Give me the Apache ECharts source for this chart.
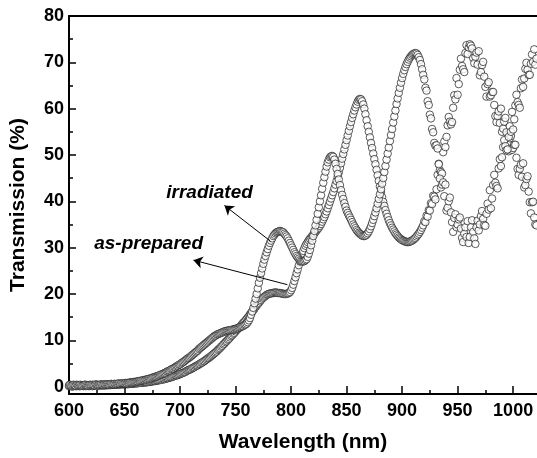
<!DOCTYPE html>
<html>
<head>
<meta charset="utf-8">
<title>Transmission</title>
<script src="https://cdn.jsdelivr.net/npm/echarts@6/dist/echarts.min.js"></script>
<style>
    html, body { margin: 0; padding: 0; background: #fff; }
    #main { width: 537px; height: 458px; }
</style>
</head>
<body>
<div id="main"></div>
<script>
// spectra sampled every 1 nm starting at 600 nm
var wlStart = 600;
var wlStep = 1;

var irradiated = [
    0.3,0.4,0.2,0.3,0.4,0.3,0.2,0.4,0.3,0.3,
    0.4,0.3,0.2,0.3,0.4,0.4,0.3,0.2,0.3,0.4,
    0.3,0.4,0.3,0.3,0.5,0.4,0.3,0.4,0.4,0.5,
    0.4,0.4,0.5,0.4,0.5,0.5,0.4,0.5,0.6,0.5,
    0.5,0.6,0.5,0.6,0.6,0.7,0.6,0.7,0.7,0.7,
    0.7,0.8,0.7,0.8,0.8,0.9,0.9,0.9,1.0,1.0,
    1.0,1.1,1.1,1.2,1.2,1.3,1.3,1.4,1.4,1.5,
    1.5,1.6,1.7,1.7,1.8,1.9,2.0,2.1,2.1,2.2,
    2.3,2.4,2.5,2.6,2.7,2.8,2.9,3.0,3.2,3.3,
    3.4,3.5,3.7,3.8,3.9,4.1,4.2,4.4,4.5,4.7,
    4.8,5.0,5.2,5.3,5.5,5.7,5.9,6.1,6.2,6.4,
    6.6,6.8,7.0,7.2,7.4,7.6,7.8,8.1,8.3,8.5,
    8.7,8.9,9.1,9.3,9.5,9.7,9.9,10.1,10.3,10.5,
    10.7,10.9,11.0,11.2,11.3,11.4,11.5,11.6,11.7,11.8,
    11.9,12.0,12.0,12.1,12.1,12.2,12.2,12.3,12.3,12.4,
    12.5,12.5,12.6,12.7,12.8,12.9,13.0,13.1,13.3,13.4,
    13.6,13.9,14.3,14.8,15.5,16.2,17.0,18.0,19.0,20.0,
    21.2,22.4,23.5,24.5,25.5,26.5,27.4,28.2,29.0,29.7,
    30.4,31.0,31.5,32.0,32.5,32.8,33.1,33.3,33.4,33.5,
    33.6,33.5,33.4,33.3,33.0,32.7,32.4,32.0,31.5,31.0,
    30.5,30.0,29.5,29.0,28.6,28.2,27.9,27.6,27.3,27.1,
    27.0,27.0,27.1,27.3,27.5,28.0,28.7,29.5,30.5,31.5,
    32.5,33.6,34.8,36.0,37.3,38.7,40.0,41.3,42.7,44.0,
    45.2,46.4,47.5,48.4,49.0,49.5,49.7,49.8,49.6,49.0,
    48.1,47.0,45.9,44.7,43.5,42.4,41.4,40.5,39.6,38.8,
    38.0,37.5,37.0,36.5,36.0,35.5,35.0,34.6,34.2,33.8,
    33.5,33.2,33.0,32.8,32.6,32.5,32.5,32.6,32.8,33.1,
    33.5,34.0,34.6,35.3,36.0,36.8,37.6,38.5,39.5,40.5,
    41.5,42.6,43.8,45.0,46.3,47.6,49.0,50.3,51.6,53.0,
    54.3,55.6,57.0,58.3,59.6,61.0,62.2,63.4,64.5,65.6,
    66.6,67.5,68.3,69.0,69.6,70.1,70.6,71.0,71.3,71.6,
    71.8,71.9,72.0,71.9,71.6,71.1,70.5,69.6,68.5,67.3,
    66.3,64.5,63.9,61.6,60.8,58.7,57.9,55.6,54.9,52.6,
    52.0,52.1,51.4,48.0,44.9,43.0,43.6,44.1,41.1,43.6,
    38.0,38.6,40.0,40.8,37.6,35.5,33.4,36.4,37.2,34.4,
    35.0,36.1,36.5,34.1,32.1,31.2,33.0,34.4,32.3,35.7,
    31.0,32.3,34.4,35.9,33.4,32.0,30.8,34.4,35.8,33.7,
    35.0,36.8,37.9,36.2,34.9,34.7,37.3,39.5,38.2,42.4,
    38.5,40.6,43.5,45.7,44.0,43.3,42.8,47.1,49.1,47.6,
    49.5,51.7,53.2,51.9,51.0,51.2,53.9,56.2,55.0,59.3,
    55.5,57.7,60.7,63.0,61.4,60.8,60.2,64.4,66.3,64.7,
    66.5,68.6,69.9,68.4,67.3,67.3,69.7,71.7,70.1,72.8,
    69.5,70.8
];

var asPrepared = [
    0.1,0.2,0.1,0.0,0.1,0.2,0.1,0.1,0.2,0.1,
    0.1,0.2,0.2,0.1,0.2,0.1,0.2,0.2,0.1,0.2,
    0.2,0.1,0.2,0.2,0.3,0.2,0.2,0.3,0.2,0.3,
    0.3,0.2,0.3,0.3,0.3,0.3,0.4,0.3,0.4,0.4,
    0.4,0.4,0.4,0.4,0.5,0.4,0.5,0.5,0.5,0.5,
    0.5,0.5,0.6,0.5,0.6,0.6,0.6,0.6,0.7,0.7,
    0.7,0.7,0.7,0.8,0.8,0.8,0.8,0.9,0.9,0.9,
    0.9,1.0,1.0,1.0,1.1,1.1,1.2,1.2,1.2,1.3,
    1.3,1.4,1.4,1.5,1.5,1.6,1.6,1.7,1.8,1.8,
    1.9,2.0,2.0,2.1,2.2,2.3,2.4,2.4,2.5,2.6,
    2.7,2.8,2.9,3.0,3.1,3.2,3.4,3.5,3.6,3.7,
    3.8,4.0,4.1,4.2,4.4,4.5,4.6,4.8,4.9,5.1,
    5.2,5.4,5.5,5.7,5.9,6.1,6.2,6.4,6.6,6.8,
    7.0,7.2,7.4,7.6,7.9,8.1,8.3,8.6,8.8,9.1,
    9.3,9.6,9.8,10.1,10.3,10.6,10.9,11.1,11.4,11.6,
    11.9,12.2,12.4,12.7,12.9,13.2,13.5,13.8,14.0,14.3,
    14.6,14.9,15.2,15.6,15.9,16.2,16.5,16.8,17.2,17.5,
    17.8,18.1,18.4,18.7,19.0,19.2,19.4,19.6,19.8,19.9,
    20.0,20.1,20.1,20.2,20.2,20.3,20.3,20.3,20.2,20.2,
    20.2,20.1,20.1,20.0,20.0,20.0,20.0,20.1,20.2,20.4,
    20.8,21.3,22.0,22.8,23.6,24.5,25.3,26.2,27.0,27.8,
    28.6,29.3,29.9,30.4,30.8,31.2,31.6,31.9,32.2,32.5,
    32.8,33.1,33.4,33.7,34.0,34.3,34.7,35.1,35.6,36.1,
    36.6,37.2,37.8,38.5,39.2,39.9,40.6,41.3,42.0,42.8,
    43.6,44.4,45.3,46.2,47.2,48.2,49.2,50.2,51.2,52.2,
    53.2,54.2,55.2,56.2,57.1,58.0,58.8,59.6,60.3,60.9,
    61.5,61.9,62.1,62.0,61.6,60.9,60.0,58.8,57.5,56.2,
    55.0,53.8,52.6,51.5,50.3,49.1,48.0,46.8,45.6,44.4,
    43.2,42.0,40.9,39.9,39.0,38.1,37.3,36.6,35.9,35.3,
    34.8,34.3,33.9,33.5,33.1,32.8,32.5,32.2,32.0,31.8,
    31.6,31.5,31.4,31.3,31.2,31.2,31.2,31.3,31.4,31.5,
    31.7,31.9,32.1,32.4,32.7,33.0,33.4,33.8,34.3,34.8,
    35.7,35.5,36.9,36.7,38.1,38.0,39.6,39.4,41.2,41.0,
    40.4,42.6,45.7,48.1,46.7,46.3,46.0,50.6,52.9,51.7,
    53.9,56.4,58.2,57.2,56.6,57.1,60.2,62.9,62.0,66.6,
    63.0,65.3,68.4,70.8,69.2,68.5,67.9,72.0,73.7,71.8,
    73.2,73.9,73.6,73.0,70.9,69.8,71.2,72.1,69.5,72.4,
    67.2,67.9,69.4,70.1,66.9,64.7,62.6,65.3,65.7,62.6,
    62.9,63.6,63.6,60.8,58.4,57.1,58.4,59.4,56.9,60.0,
    55.0,55.7,57.2,58.0,54.9,52.8,50.8,53.6,54.1,51.1,
    51.5,52.2,52.2,49.4,47.0,45.7,47.0,47.9,45.3,48.2,
    43.0,43.5,44.8,45.4,42.1,39.8,37.4,39.8,39.9,36.5,
    35.0,34.8
];

var xTicks = [600, 650, 700, 750, 800, 850, 900, 950, 1000];
var xMinorTicks = [625, 675, 725, 775, 825, 875, 925, 975];
var yTicks = [0, 10, 20, 30, 40, 50, 60, 70, 80];
var yMinorTicks = [5, 15, 25, 35, 45, 55, 65, 75];

// annotation texts and their arrows (tail -> head), in data coordinates
var labels = [
    { text: 'irradiated', at: [726.6, 41.9] },
    { text: 'as-prepared', at: [671.7, 30.8] }
];
var arrows = [
    [[781.4, 31.4], [740.0, 39.1]],
    [[796.7, 22.0], [712.1, 27.3]]
];

function toPairs(values) {
    var out = [];
    for (var i = 0; i < values.length; i++) {
        out.push([wlStart + i * wlStep, values[i]]);
    }
    return out;
}

var FONT = '"Liberation Sans", Arial, sans-serif';

var myChart = echarts.init(document.getElementById('main'), null, { renderer: 'canvas' });

var circle = {
    type: 'scatter',
    symbol: 'circle',
    symbolSize: 7.5,
    itemStyle: { color: '#fff', borderColor: '#1a1a1a', borderWidth: 0.9 },
    emphasis: { disabled: true },
    silent: true
};

var option = {
    backgroundColor: '#fff',
    animation: false,
    grid: { left: 68, right: 0, top: 16, bottom: 61 },
    xAxis: [
        {
            type: 'value', position: 'bottom', min: 600, max: 1021.5,
            name: 'Wavelength (nm)', nameLocation: 'middle', nameGap: 38,
            nameTextStyle: { fontFamily: FONT, fontWeight: 'bold', fontSize: 21, color: '#000' },
            axisLine: { show: true, onZero: false, lineStyle: { color: '#000', width: 2 } },
            axisTick: { show: true, inside: true, length: 8, customValues: xTicks, lineStyle: { color: '#000', width: 1.5 } },
            axisLabel: {
                customValues: xTicks, margin: 8, fontFamily: FONT, fontWeight: 'bold', fontSize: 18, color: '#000',
                formatter: function (v) { return String(v); }
            },
            splitLine: { show: false }
        },
        {   // top frame line
            type: 'value', position: 'top', min: 600, max: 1021.5,
            axisLine: { show: true, onZero: false, lineStyle: { color: '#000', width: 2 } },
            axisTick: { show: false }, axisLabel: { show: false }, splitLine: { show: false }
        },
        {   // minor ticks on the bottom axis
            type: 'value', position: 'bottom', min: 600, max: 1021.5,
            axisLine: { show: false, onZero: false },
            axisTick: { show: true, inside: true, length: 4, customValues: xMinorTicks, lineStyle: { color: '#000', width: 1.5 } },
            axisLabel: { show: false }, splitLine: { show: false }
        }
    ],
    yAxis: [
        {
            type: 'value', position: 'left', min: -1.6, max: 80,
            name: 'Transmission (%)', nameLocation: 'middle', nameGap: 40,
            nameTextStyle: { fontFamily: FONT, fontWeight: 'bold', fontSize: 21, color: '#000' },
            axisLine: { show: true, onZero: false, lineStyle: { color: '#000', width: 2 } },
            axisTick: { show: true, inside: true, length: 7, customValues: yTicks, lineStyle: { color: '#000', width: 1.5 } },
            axisLabel: { customValues: yTicks, margin: 5, fontFamily: FONT, fontWeight: 'bold', fontSize: 18, color: '#000' },
            splitLine: { show: false }
        },
        {   // minor ticks on the left axis
            type: 'value', position: 'left', min: -1.6, max: 80,
            axisLine: { show: false, onZero: false },
            axisTick: { show: true, inside: true, length: 4, customValues: yMinorTicks, lineStyle: { color: '#000', width: 1.5 } },
            axisLabel: { show: false }, splitLine: { show: false }
        }
    ],
    series: [
        echarts.util.extend({
            name: 'as-prepared',
            data: toPairs(asPrepared)
        }, circle),
        echarts.util.extend({
            name: 'irradiated',
            data: toPairs(irradiated),
            markLine: {
                silent: true,
                symbol: ['none', 'arrow'],
                symbolSize: 9,
                label: { show: false },
                lineStyle: { color: '#000', width: 1, type: 'solid' },
                data: arrows.map(function (a) {
                    return [{ coord: a[0] }, { coord: a[1] }];
                })
            }
        }, circle)
    ]
};
myChart.setOption(option);

// annotation texts placed at their data positions
myChart.setOption({
    graphic: labels.map(function (l) {
        var p = myChart.convertToPixel({ seriesIndex: 0 }, l.at);
        return {
            type: 'text', x: p[0], y: p[1], silent: true,
            style: {
                text: l.text, fill: '#000', align: 'center', verticalAlign: 'middle',
                font: 'italic bold 19px ' + FONT
            }
        };
    })
});

window.addEventListener('resize', function () {
    myChart.resize();
});
</script>
</body>
</html>
